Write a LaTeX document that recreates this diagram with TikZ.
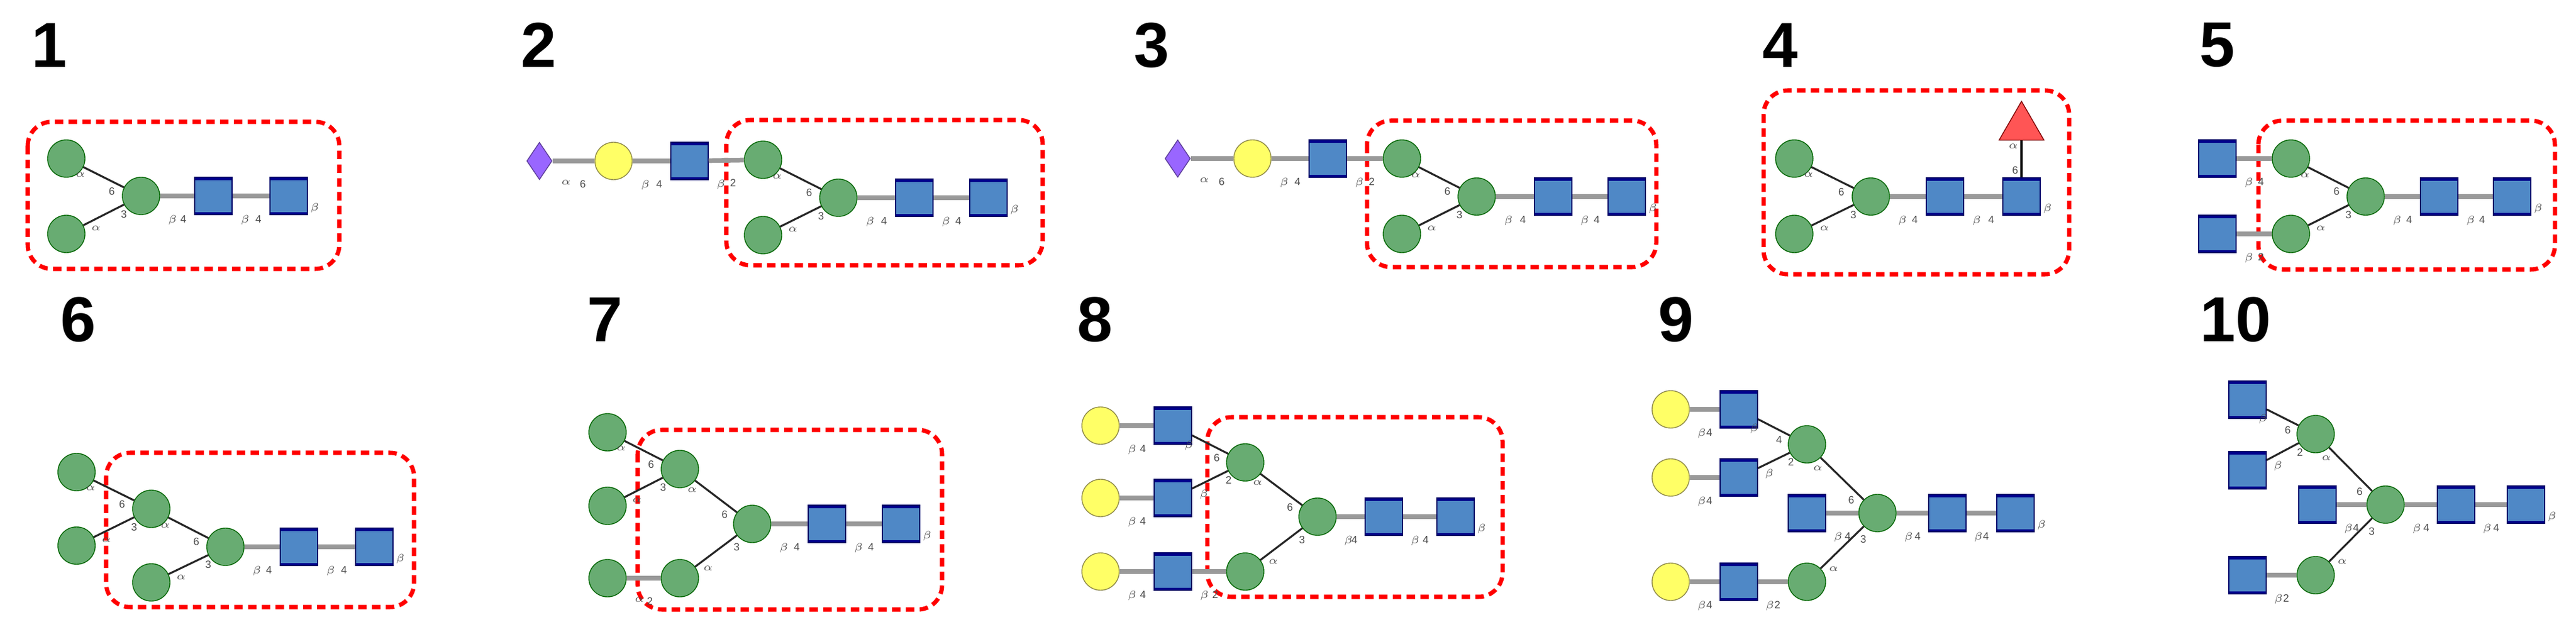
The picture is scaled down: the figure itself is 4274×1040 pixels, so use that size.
\documentclass[tikz,border=0pt]{standalone}
\usepackage{fontspec}
\setmainfont{Liberation Sans}
\usetikzlibrary{shapes.geometric}
\definecolor{manc}{HTML}{68AC72}
\definecolor{glcc}{HTML}{4F88C6}
\definecolor{galc}{HTML}{FFFF66}
\definecolor{siac}{HTML}{9966FF}
\definecolor{fucc}{HTML}{FF5555}
\tikzset{
 man/.style={circle,draw=green!40!black,fill=manc,minimum size=0.62cm,inner sep=0pt},
 gal/.style={circle,draw=yellow!50!black,fill=galc,minimum size=0.62cm,inner sep=0pt},
 glc/.style={rectangle,draw=blue!40!black,fill=glcc,minimum size=0.62cm,inner sep=0pt,
   path picture={\fill[blue!55!black] (path picture bounding box.north west) rectangle ([yshift=-1.5pt]path picture bounding box.north east);
   \fill[blue!55!black] (path picture bounding box.south west) rectangle ([yshift=1.2pt]path picture bounding box.south east);}},
 sia/.style={diamond,draw=siac!60!black,fill=siac,minimum width=0.42cm,minimum height=0.62cm,inner sep=0pt},
 fuc/.style={regular polygon,regular polygon sides=3,draw=red!50!black,fill=fucc,minimum size=0.86cm,inner sep=0pt},
 hl/.style={draw=gray!80,line width=2.2pt},
 dl/.style={draw=black!85,line width=0.9pt},
 lab/.style={font=\fontsize{5}{5}\selectfont,text=black!70,inner sep=1pt},
 num/.style={font=\fontsize{30}{30}\selectfont\bfseries},
 box/.style={draw=red,line width=2pt,dash pattern=on 4pt off 2.5pt,rounded corners=0.4cm}
}
\newcommand\lkH[4]{\draw[hl] (#1) -- (#2) node[lab,pos=0.1,anchor=north west,yshift=-7pt]{#3} node[lab,pos=0.9,anchor=north east,yshift=-7pt]{#4};}
\newcommand\lkD[5]{\draw[dl] (#1) -- (#2) node[lab,pos=0.12,#5]{#3} node[lab,pos=0.85,#5]{#4};}
\newcommand\redend[1]{\node[lab,anchor=south west] at (#1.south east) {$\beta$};}
\begin{document}
\begin{tikzpicture}[x=0.01cm,y=-0.01cm]
\useasboundingbox (0,0) rectangle (4274,1040);
% numbers
\node[num] (n1) at (82,75) {1};
\node[num] (n2) at (894,75) {2};
\node[num] (n3) at (1911,75) {3};
\node[num] (n4) at (2954,75) {4};
\node[num] (n5) at (3679,75) {5};
\node[num] (n6) at (130,530) {6};
\node[num] (n7) at (1004,530) {7};
\node[num] (n8) at (1817,530) {8};
\node[num] (n9) at (2781,530) {9};
\node[num] (n10) at (3709,530) {10};
% boxes
\draw[box] (46,202) rectangle (563,446);
\draw[box] (1205,199) rectangle (1730,440);
\draw[box] (2268,200) rectangle (2748,443);
\draw[box] (2926,150) rectangle (3433,455);
\draw[box] (3747,200) rectangle (4239,447);
\draw[box] (176,751) rectangle (687,1007);
\draw[box] (1058,713) rectangle (1563,1011);
\draw[box] (2003,692) rectangle (2493,990);
% panel 1
\node[man] (a1) at (110,263) {}; \node[man] (b1) at (110,388) {};
\node[man] (c1) at (234,325) {}; \node[glc] (d1) at (354,325) {}; \node[glc] (e1) at (479,325) {};
\lkD{a1}{c1}{$\alpha$}{6}{below left}\lkD{b1}{c1}{$\alpha$}{3}{below right}
\lkH{c1}{d1}{$\beta$}{4}\lkH{d1}{e1}{$\beta$}{4}\redend{e1}
% panel 2
\node[sia] (s2) at (895,267) {}; \node[gal] (y2) at (1018,267) {}; \node[glc] (g2) at (1144,267) {};
\node[man] (a2) at (1266,265) {}; \node[man] (c2) at (1391,328) {}; \node[man] (b2) at (1266,390) {};
\node[glc] (d2) at (1517,328) {}; \node[glc] (e2) at (1640,328) {};
\lkH{s2}{y2}{$\alpha$}{6}\lkH{y2}{g2}{$\beta$}{4}\lkH{g2}{a2}{$\beta$}{2}
\lkD{a2}{c2}{$\alpha$}{6}{below left}\lkD{b2}{c2}{$\alpha$}{3}{below right}
\lkH{c2}{d2}{$\beta$}{4}\lkH{d2}{e2}{$\beta$}{4}\redend{e2}
% panel 3
\node[sia] (s3) at (1954,263) {}; \node[gal] (y3) at (2078,263) {}; \node[glc] (g3) at (2203,263) {};
\node[man] (a3) at (2326,263) {}; \node[man] (c3) at (2450,326) {}; \node[man] (b3) at (2326,388) {};
\node[glc] (d3) at (2577,326) {}; \node[glc] (e3) at (2699,326) {};
\lkH{s3}{y3}{$\alpha$}{6}\lkH{y3}{g3}{$\beta$}{4}\lkH{g3}{a3}{$\beta$}{2}
\lkD{a3}{c3}{$\alpha$}{6}{below left}\lkD{b3}{c3}{$\alpha$}{3}{below right}
\lkH{c3}{d3}{$\beta$}{4}\lkH{d3}{e3}{$\beta$}{4}\redend{e3}
% panel 4
\node[man] (a4) at (2977,263) {}; \node[man] (c4) at (3104,326) {}; \node[man] (b4) at (2977,388) {};
\node[glc] (d4) at (3227,326) {}; \node[glc] (e4) at (3354,326) {};
\node[fuc] (f4) at (3354,211) {};
\lkD{a4}{c4}{$\alpha$}{6}{below left}\lkD{b4}{c4}{$\alpha$}{3}{below right}
\lkH{c4}{d4}{$\beta$}{4}\lkH{d4}{e4}{$\beta$}{4}\redend{e4}
\draw[line width=1.2pt] (f4.south) -- (e4) node[lab,pos=0.15,left]{$\alpha$} node[lab,pos=0.8,left]{6};
% panel 5
\node[glc] (g5) at (3679,263) {}; \node[man] (a5) at (3801,263) {}; \node[man] (c5) at (3925,326) {};
\node[man] (b5) at (3801,388) {}; \node[glc] (h5) at (3679,388) {};
\node[glc] (d5) at (4047,326) {}; \node[glc] (e5) at (4168,326) {};
\lkH{g5}{a5}{$\beta$}{4}\lkH{h5}{b5}{$\beta$}{2}
\lkD{a5}{c5}{$\alpha$}{6}{below left}\lkD{b5}{c5}{$\alpha$}{3}{below right}
\lkH{c5}{d5}{$\beta$}{4}\lkH{d5}{e5}{$\beta$}{4}\redend{e5}
% panel 6
\node[man] (a6) at (127,783) {}; \node[man] (b6) at (127,905) {}; \node[man] (c6) at (251,844) {};
\node[man] (d6) at (251,966) {}; \node[man] (e6) at (374,907) {};
\node[glc] (f6) at (496,907) {}; \node[glc] (g6) at (621,907) {};
\lkD{a6}{c6}{$\alpha$}{6}{below left}\lkD{b6}{c6}{$\alpha$}{3}{below right}
\lkD{c6}{e6}{$\alpha$}{6}{below left}\lkD{d6}{e6}{$\alpha$}{3}{below right}
\lkH{e6}{f6}{$\beta$}{4}\lkH{f6}{g6}{$\beta$}{4}\redend{g6}
% panel 7
\node[man] (a7) at (1008,717) {}; \node[man] (b7) at (1008,839) {}; \node[man] (c7) at (1128,778) {};
\node[man] (d7) at (1248,869) {}; \node[man] (e7) at (1128,959) {}; \node[man] (f7) at (1008,959) {};
\node[glc] (g7) at (1372,869) {}; \node[glc] (h7) at (1495,869) {};
\lkD{a7}{c7}{$\alpha$}{6}{below left}\lkD{b7}{c7}{$\alpha$}{3}{below right}
\lkD{c7}{d7}{$\alpha$}{6}{below left}\lkD{e7}{d7}{$\alpha$}{3}{below right}
\lkH{f7}{e7}{$\alpha$}{2}
\lkH{d7}{g7}{$\beta$}{4}\lkH{g7}{h7}{$\beta$}{4}\redend{h7}
% panel 8
\node[gal] (p8) at (1826,706) {}; \node[glc] (q8) at (1946,706) {};
\node[gal] (r8) at (1826,826) {}; \node[glc] (s8) at (1946,826) {};
\node[gal] (t8) at (1826,948) {}; \node[glc] (u8) at (1946,948) {};
\node[man] (a8) at (2066,767) {}; \node[man] (b8) at (2066,948) {}; \node[man] (c8) at (2186,857) {};
\node[glc] (d8) at (2296,857) {}; \node[glc] (e8) at (2415,857) {};
\lkH{p8}{q8}{$\beta$}{4}\lkH{r8}{s8}{$\beta$}{4}\lkH{t8}{u8}{$\beta$}{4}
\lkD{q8}{a8}{$\beta$}{6}{below left}\lkD{s8}{a8}{$\beta$}{2}{below right}
\lkH{u8}{b8}{$\beta$}{2}
\lkD{a8}{c8}{$\alpha$}{6}{below left}\lkD{b8}{c8}{$\alpha$}{3}{below right}
\lkH{c8}{d8}{$\beta$}{4}\lkH{d8}{e8}{$\beta$}{4}\redend{e8}
% panel 9
\node[gal] (p9) at (2772,679) {}; \node[glc] (q9) at (2885,679) {};
\node[gal] (r9) at (2772,792) {}; \node[glc] (s9) at (2885,792) {};
\node[man] (a9) at (2998,737) {}; \node[glc] (k9) at (2998,851) {};
\node[man] (c9) at (3115,851) {}; \node[glc] (d9) at (3231,851) {}; \node[glc] (e9) at (3344,851) {};
\node[gal] (t9) at (2772,965) {}; \node[glc] (u9) at (2885,965) {}; \node[man] (b9) at (2998,965) {};
\lkH{p9}{q9}{$\beta$}{4}\lkH{r9}{s9}{$\beta$}{4}\lkH{t9}{u9}{$\beta$}{4}
\lkD{q9}{a9}{$\beta$}{4}{below left}\lkD{s9}{a9}{$\beta$}{2}{below right}
\lkH{u9}{b9}{$\beta$}{2}
\lkD{a9}{c9}{$\alpha$}{6}{below left}\lkD{b9}{c9}{$\alpha$}{3}{below right}
\lkH{k9}{c9}{$\beta$}{4}
\lkH{c9}{d9}{$\beta$}{4}\lkH{d9}{e9}{$\beta$}{4}\redend{e9}
% panel 10
\node[glc] (q10) at (3729,663) {}; \node[glc] (s10) at (3729,780) {};
\node[man] (a10) at (3842,720) {}; \node[glc] (k10) at (3845,837) {};
\node[man] (c10) at (3958,837) {}; \node[glc] (d10) at (4075,837) {}; \node[glc] (e10) at (4191,837) {};
\node[man] (b10) at (3842,954) {}; \node[glc] (u10) at (3729,954) {};
\lkD{q10}{a10}{$\beta$}{6}{below left}\lkD{s10}{a10}{$\beta$}{2}{below right}
\lkH{u10}{b10}{$\beta$}{2}
\lkD{a10}{c10}{$\alpha$}{6}{below left}\lkD{b10}{c10}{$\alpha$}{3}{below right}
\lkH{k10}{c10}{$\beta$}{4}
\lkH{c10}{d10}{$\beta$}{4}\lkH{d10}{e10}{$\beta$}{4}\redend{e10}
\end{tikzpicture}
\end{document}
